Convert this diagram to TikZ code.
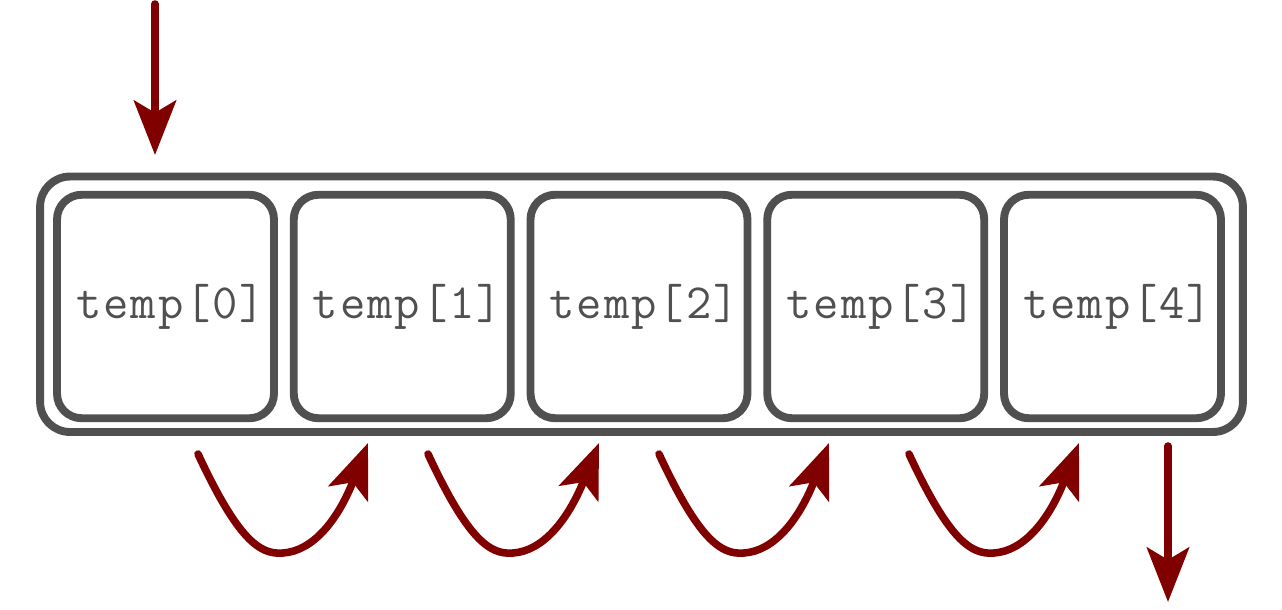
\documentclass[tikz,border=0pt]{standalone}
\usepackage{fontspec}
\setmonofont{Latin Modern Mono}[LetterSpace=4]
\usetikzlibrary{arrows.meta}
\definecolor{boxgray}{HTML}{505050}
\definecolor{arrred}{HTML}{800000}
\begin{document}
\begin{tikzpicture}[x=0.02cm,y=-0.02cm,
  outerbox/.style={draw=boxgray, line width=4.5pt, rounded corners=17pt,
    minimum width=24.06cm, minimum height=5.11cm, inner sep=0pt},
  cell/.style={draw=boxgray, line width=4.5pt, rounded corners=14pt,
    minimum width=4.34cm, minimum height=4.47cm, inner sep=0pt,
    font=\ttfamily\fontsize{28}{32}\selectfont, text=boxgray},
  flow/.style={draw=arrred, line width=4.3pt, line cap=round,
    -{Stealth[length=31pt,width=24pt,inset=7pt]}}]
\useasboundingbox (0,0) rectangle (1282,609);
\node[outerbox] (outer) at (641.5,304.25) {};
\foreach \i in {0,...,4}{
  \node[cell] (c\i) at ({165.5+\i*236.75},306.5) {\hspace*{6pt}temp[\i]};
}
% input / output
\coordinate (inS) at (155,4);
\coordinate (inE) at (155,155);
\coordinate (outS) at (1168,446);
\coordinate (outE) at (1168,602);
\draw[flow] (inS) -- (inE);
\draw[flow] (outS) -- (outE);
% curved arrows
\foreach \s/\t/\n in {198/368/0, 428/599/1, 659/829/2, 909/1079/3}{
  \coordinate (a\n) at (\s,454);
  \coordinate (b\n) at (\t,443);
  \draw[flow] (a\n) .. controls ({\s+40},{540}) and ({\s+62},{555}) .. ({\s+85},{553})
     .. controls ({\s+115},{551}) and ({\s+140},{520}) .. (b\n);
}
\end{tikzpicture}
\end{document}
